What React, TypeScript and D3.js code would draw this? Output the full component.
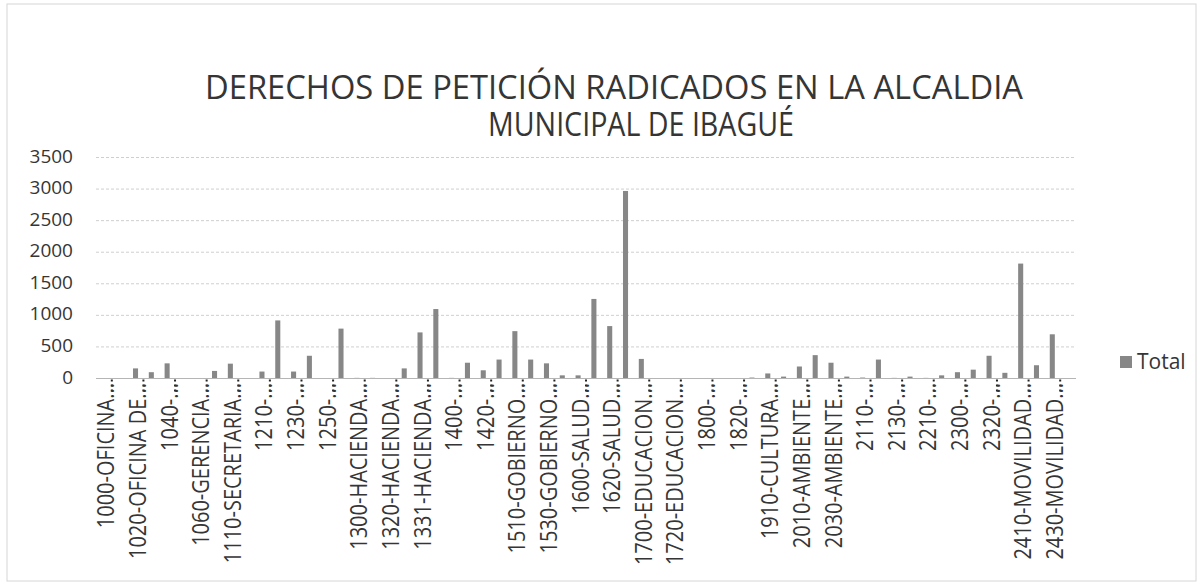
import React, { useRef, useEffect } from 'react';
import * as d3 from 'd3';

// Etiquetas visibles del eje (una de cada dos dependencias)
const tickLabels = [
  '1000-OFICINA...', '1020-OFICINA DE...', '1040-...', '1060-GERENCIA...',
  '1110-SECRETARIA...', '1210-...', '1230-...', '1250-...', '1300-HACIENDA...',
  '1320-HACIENDA...', '1331-HACIENDA...', '1400-...', '1420-...',
  '1510-GOBIERNO...', '1530-GOBIERNO...', '1600-SALUD...', '1620-SALUD...',
  '1700-EDUCACION...', '1720-EDUCACION...', '1800-...', '1820-...',
  '1910-CULTURA...', '2010-AMBIENTE...', '2030-AMBIENTE...', '2110-...',
  '2130-...', '2210-...', '2300-...', '2320-...', '2410-MOVILIDAD...',
  '2430-MOVILIDAD...',
];

// Total de peticiones por dependencia (62 categorías)
const totals = [
  0, 0, 160, 100, 240, 0, 0, 120, 235, 0,
  110, 920, 110, 360, 0, 790, 10, 10, 0, 160,
  730, 1100, 10, 250, 130, 300, 750, 300, 240, 50,
  50, 1260, 830, 2970, 310, 0, 0, 0, 0, 5,
  5, 15, 80, 30, 190, 370, 250, 30, 15, 300,
  10, 30, 10, 50, 100, 140, 360, 90, 1820, 210,
  700, 0,
];

const yTicks = [0, 500, 1000, 1500, 2000, 2500, 3000, 3500];

const titleLines = [
  'DERECHOS DE PETICIÓN RADICADOS EN LA ALCALDIA',
  'MUNICIPAL DE IBAGUÉ',
];

const seriesName = 'Total';

const W = 1203;
const H = 586;
const FONT = '"Open Sans", "Noto Sans", sans-serif';
const BAR = '#878787';
const TEXT = '#353535';

function App() {
  const svgRef = useRef<SVGSVGElement>(null);

  useEffect(() => {
    const svg = d3.select(svgRef.current);
    svg.selectAll('*').remove();

    svg.append('rect').attr('width', W).attr('height', H).attr('fill', '#fff');

    // marco del área del gráfico
    svg
      .append('rect')
      .attr('x', 7)
      .attr('y', 4)
      .attr('width', 1189)
      .attr('height', 577)
      .attr('fill', 'none')
      .attr('stroke', '#d6d6d6');

    const x = d3
      .scaleBand<number>()
      .domain(d3.range(totals.length))
      .range([96, 1076])
      .paddingInner(0.68)
      .paddingOuter(0.34);

    const y = d3.scaleLinear().domain([0, 3500]).range([378.5, 157.5]);

    // título
    const titlePos = [
      { x: 205, y: 99, len: 818 },
      { x: 488, y: 136, len: 306 },
    ];
    svg
      .selectAll('text.title')
      .data(titleLines)
      .join('text')
      .attr('class', 'title')
      .attr('x', (_, i) => titlePos[i].x)
      .attr('y', (_, i) => titlePos[i].y)
      .attr('textLength', (_, i) => titlePos[i].len)
      .attr('lengthAdjust', 'spacingAndGlyphs')
      .attr('font-family', FONT)
      .attr('font-size', 33)
      .attr('fill', TEXT)
      .text((d) => d);

    // líneas de división
    svg
      .append('g')
      .selectAll('line')
      .data(yTicks.filter((t) => t > 0))
      .join('line')
      .attr('x1', 96)
      .attr('x2', 1076)
      .attr('y1', (d) => y(d))
      .attr('y2', (d) => y(d))
      .attr('stroke', '#cfcfcf')
      .attr('stroke-dasharray', '3 2');

    // etiquetas del eje Y
    svg
      .append('g')
      .selectAll('text')
      .data(yTicks)
      .join('text')
      .attr('x', 73)
      .attr('y', (d) => y(d) - 2)
      .attr('text-anchor', 'end')
      .attr('dominant-baseline', 'central')
      .attr('font-family', FONT)
      .attr('font-size', 19)
      .attr('fill', TEXT)
      .text((d) => d);

    // barras
    svg
      .append('g')
      .selectAll('rect')
      .data(totals)
      .join('rect')
      .attr('x', (_, i) => x(i)!)
      .attr('width', x.bandwidth())
      .attr('y', (d) => y(d))
      .attr('height', (d) => y(0) - y(d))
      .attr('fill', BAR);

    // eje X
    svg
      .append('line')
      .attr('x1', 96)
      .attr('x2', 1076)
      .attr('y1', y(0))
      .attr('y2', y(0))
      .attr('stroke', '#b5b5b5');

    const step = x.step();
    const x0 = x.range()[0];
    svg
      .append('g')
      .selectAll('line')
      .data(d3.range(tickLabels.length))
      .join('line')
      .attr('x1', (i) => x0 + step * (2 * i + 1))
      .attr('x2', (i) => x0 + step * (2 * i + 1))
      .attr('y1', y(0) + 1)
      .attr('y2', y(0) + 13)
      .attr('stroke', '#222')
      .attr('stroke-width', 2)
      .attr('stroke-dasharray', '2 3');

    // etiquetas de categoría, rotadas
    svg
      .append('g')
      .selectAll('text')
      .data(tickLabels)
      .join('text')
      .attr('transform', (_, i) => {
        const cx = x(i * 2)! + x.bandwidth() / 2;
        return `translate(${cx + 10.5},383) rotate(-90) scale(1,1.2)`;
      })
      .attr('text-anchor', 'end')
      .attr('font-family', FONT)
      .attr('font-size', 20)
      .attr('fill', TEXT)
      .text((d) => d);

    // leyenda
    svg
      .append('rect')
      .attr('x', 1120)
      .attr('y', 356)
      .attr('width', 12)
      .attr('height', 12)
      .attr('fill', BAR);
    svg
      .append('text')
      .attr('x', 1137)
      .attr('y', 369)
      .attr('font-family', FONT)
      .attr('font-size', 21)
      .attr('fill', TEXT)
      .text(seriesName);
  }, []);

  return (
    <svg
      ref={svgRef}
      width={W}
      height={H}
      style={{ position: 'absolute', left: 0, top: 0 }}
      xmlns="http://www.w3.org/2000/svg"
    />
  );
}

export default App;
